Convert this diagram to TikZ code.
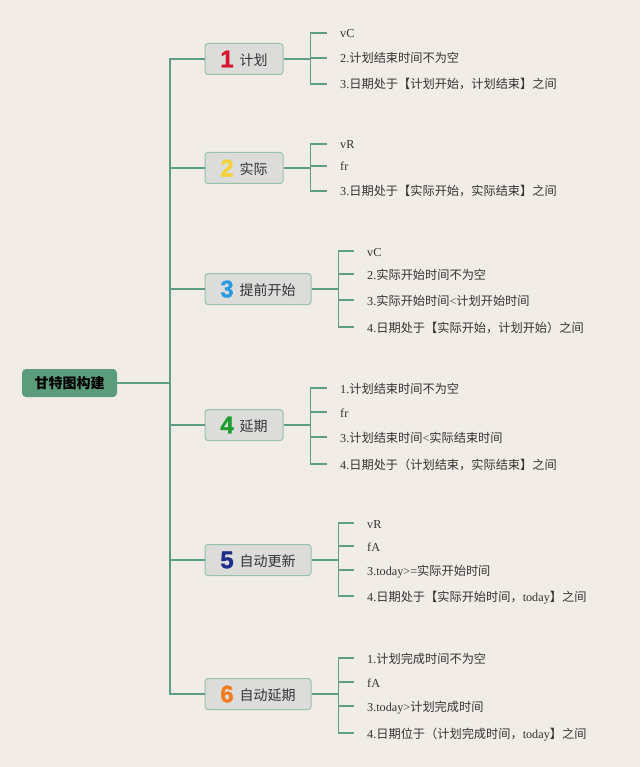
\documentclass[tikz,border=0pt]{standalone}
\usepackage{fontspec}
\setmainfont{Liberation Serif}
\newfontfamily\cjk{Noto Sans CJK SC}
\newfontfamily\digitfont{Liberation Sans}[BoldFeatures={FakeBold=1.5}]
\newcommand\zh[1]{{\cjk #1}}
\definecolor{bg}{HTML}{F1EDE6}
\definecolor{ln}{HTML}{5E9E86}
\definecolor{rootfill}{HTML}{5A9C7C}
\definecolor{boxfill}{HTML}{DCDCDA}
\definecolor{boxline}{HTML}{96C2AC}
\definecolor{txt}{HTML}{333333}
\definecolor{n1}{HTML}{D7172F}
\definecolor{n2}{HTML}{F3D23C}
\definecolor{n3}{HTML}{2B9BE0}
\definecolor{n4}{HTML}{1E9E2E}
\definecolor{n5}{HTML}{1F2D8A}
\definecolor{n6}{HTML}{F47B20}
\newcommand\bnum[2]{\raisebox{-2pt}{\digitfont\bfseries\fontsize{24}{24}\selectfont\color{#1}#2}\hspace{6pt}}
\tikzset{
  rootbox/.style={fill=rootfill, rounded corners=4pt, minimum width=95pt, minimum height=28pt,
    inner sep=0pt, font=\cjk\bfseries\fontsize{14}{14}\selectfont, text=black},
  branchbox/.style={draw=boxline, line width=1pt, fill=boxfill, rounded corners=3pt,
    minimum height=31pt, inner sep=0pt, font=\cjk\fontsize{14}{14}\selectfont, text=txt},
  narrowbox/.style={branchbox, minimum width=78pt},
  widebox/.style={branchbox, minimum width=106pt},
  leaf/.style={anchor=west, inner sep=0pt, font=\fontsize{12.2}{12.2}\selectfont, text=txt,
    text height=10pt, text depth=0pt},
  conn/.style={draw=ln, line width=1.5pt},
}
\begin{document}
\begin{tikzpicture}[x=1pt,y=-1pt]
\fill[bg] (0,0) rectangle (640,767);
\useasboundingbox (0,0) rectangle (640,767);

\node[rootbox] (root) at (69.5,383) {甘特图构建};

\node[narrowbox] (b1) at (244,59) {\bnum{n1}{1}计划};
\node[narrowbox] (b2) at (244,168) {\bnum{n2}{2}实际};
\node[widebox] (b3) at (258,289) {\bnum{n3}{3}提前开始};
\node[narrowbox] (b4) at (244,425) {\bnum{n4}{4}延期};
\node[widebox] (b5) at (258,560) {\bnum{n5}{5}自动更新};
\node[widebox] (b6) at (258,694) {\bnum{n6}{6}自动延期};

% leaves
\node[leaf] (l11) at (340,33) {vC};
\node[leaf] (l12) at (340,58) {2.\zh{计划结束时间不为空}};
\node[leaf] (l13) at (340,84) {3.\zh{日期处于【计划开始，计划结束】之间}};

\node[leaf] (l21) at (340,144) {vR};
\node[leaf] (l22) at (340,166) {fr};
\node[leaf] (l23) at (340,191) {3.\zh{日期处于【实际开始，实际结束】之间}};

\node[leaf] (l31) at (367,251) {vC};
\node[leaf] (l32) at (367,274) {2.\zh{实际开始时间不为空}};
\node[leaf] (l33) at (367,300) {3.\zh{实际开始时间}<\zh{计划开始时间}};
\node[leaf] (l34) at (367,327) {4.\zh{日期处于【实际开始，计划开始）之间}};

\node[leaf] (l41) at (340,388) {1.\zh{计划结束时间不为空}};
\node[leaf] (l42) at (340,412) {fr};
\node[leaf] (l43) at (340,437) {3.\zh{计划结束时间}<\zh{实际结束时间}};
\node[leaf] (l44) at (340,464) {4.\zh{日期处于（计划结束，实际结束】之间}};

\node[leaf] (l51) at (367,523) {vR};
\node[leaf] (l52) at (367,546) {fA};
\node[leaf] (l53) at (367,570) {3.today>=\zh{实际开始时间}};
\node[leaf] (l54) at (367,596) {4.\zh{日期处于【实际开始时间，}today\zh{】之间}};

\node[leaf] (l61) at (367,658) {1.\zh{计划完成时间不为空}};
\node[leaf] (l62) at (367,682) {fA};
\node[leaf] (l63) at (367,706) {3.today>\zh{计划完成时间}};
\node[leaf] (l64) at (367,733) {4.\zh{日期位于（计划完成时间，}today\zh{】之间}};

% trunk
\coordinate (J) at (170,383);
\draw[conn] (root.east) -- (J);
\foreach \b in {b1,b2,b3,b4,b5,b6} \draw[conn] (J) |- (\b.west);

% brackets
\foreach \k/\n in {1/3,2/3,3/4,4/4,5/4,6/4} {
  \draw[conn] (b\k.east) -- ++(27,0) coordinate (j\k);
  \foreach \i in {1,...,\n} \draw[conn] (j\k) |- ([xshift=-13pt]l\k\i.west);
}
\end{tikzpicture}
\end{document}
